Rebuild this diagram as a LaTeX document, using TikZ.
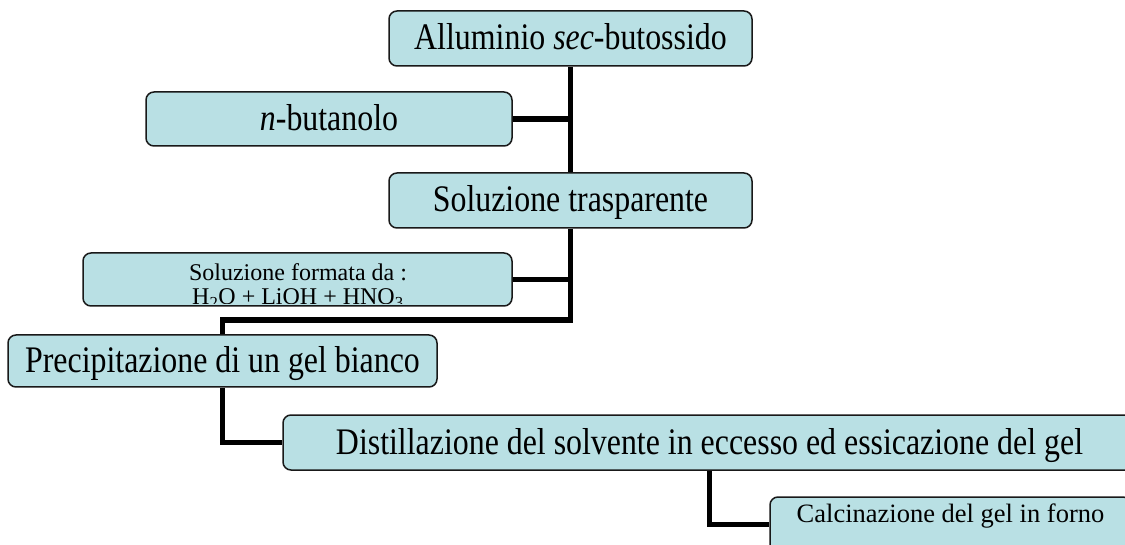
\documentclass[tikz,border=0pt]{standalone}
\usepackage{fontspec}
\setmainfont{Liberation Serif}
\newfontfamily\tallfont[FakeStretch=0.85]{Liberation Serif}
\definecolor{boxfill}{RGB}{185,224,228}
\tikzset{
  flowbox/.style={draw=black!90, line width=1.5pt, fill=boxfill, rounded corners=8pt,
                  inner sep=0pt, font=\tallfont\fontsize{37.5}{37.5}\selectfont,
                  text height=25pt, text depth=2pt},
  smallbox/.style={flowbox, font=\fontsize{26.5}{26.5}\selectfont},
  link/.style={draw=black, line width=5.5pt}
}

\begin{document}
\begin{tikzpicture}[x=1pt, y=-1pt]
\useasboundingbox (0,0) rectangle (1125,545);

\begin{scope}
    \node[flowbox, minimum width=363pt, minimum height=55pt] (allum) at (570.5,38.5) {Alluminio \textit{sec}-butossido};
    \node[flowbox, minimum width=366pt, minimum height=54pt] (butan) at (329,119) {\textit{n}-butanolo};
    \node[flowbox, minimum width=363pt, minimum height=55pt] (soltr) at (570.5,200.5) {Soluzione trasparente};
    \node[flowbox, minimum width=429pt, minimum height=53pt] (solform) at (297.5,279.5) {};
    \node[flowbox, minimum width=429pt, minimum height=52pt] (precip) at (222.5,361) {Precipitazione di un gel bianco};
    \node[flowbox, minimum width=853pt, minimum height=55pt] (distill) at (709.5,442.5) {Distillazione del solvente in eccesso ed essicazione del gel};
    \node[smallbox, minimum width=361pt, text height=25pt, text depth=30pt] (calc) at (950.5,524.5) {Calcinazione del gel in forno};
    \coordinate (split) at (572,320);
\end{scope}

% testo tagliato dal bordo della casella
\begin{scope}
    \clip ([yshift=3.5pt]solform.south west) rectangle (solform.north east);
    \node[anchor=north, inner sep=0pt, align=center, font=\fontsize{24}{24}\selectfont] (solformtxt) at (298,263.6)
        {Soluzione formata da :\\ H\textsubscript{2}O + LiOH + HNO\textsubscript{3}};
\end{scope}

\begin{scope}[every path/.style={link}]
    \path (allum.south) edge (soltr.north);
    \path (butan.east) edge (butan.east -| allum.south);
    \path (solform.east) edge (solform.east -| soltr.south);
    \draw (soltr.south) -- (soltr.south |- split) -| (precip.north);
    \draw (precip.south) |- (distill.west);
    \draw (distill.south) |- (calc.west);
\end{scope}
\end{tikzpicture}
\end{document}
